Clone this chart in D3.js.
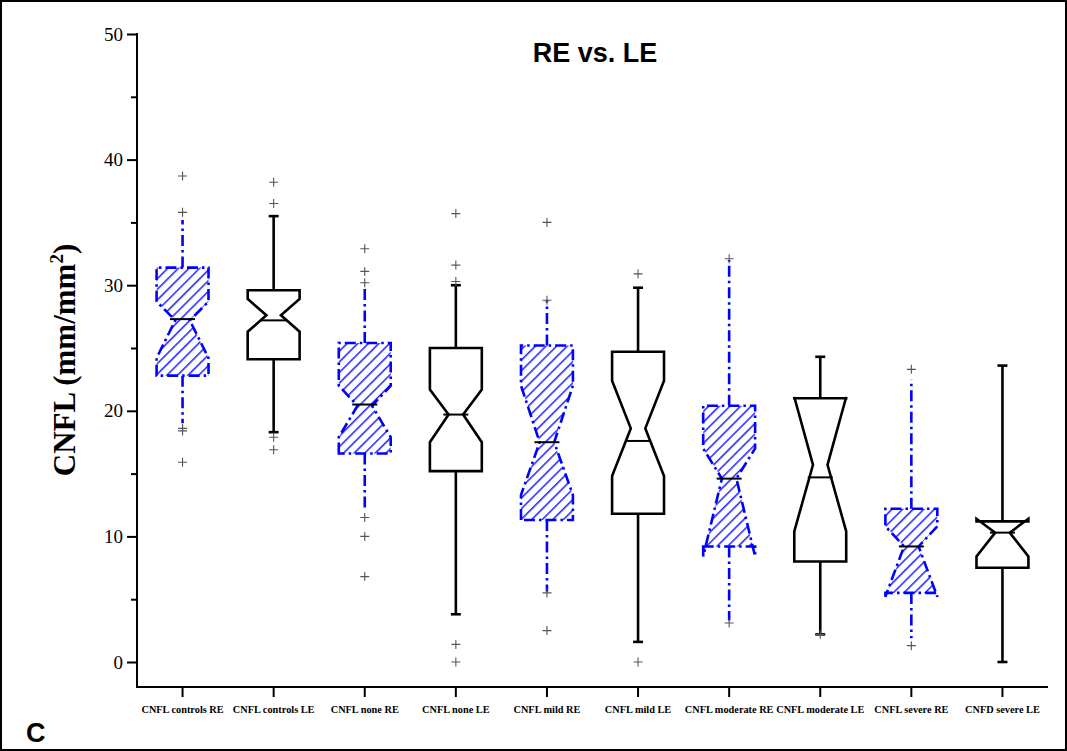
<!DOCTYPE html>
<html>
<head>
<meta charset="utf-8">
<script src="https://cdn.jsdelivr.net/npm/d3@7"></script>
<style>
  html, body { margin: 0; padding: 0; background: #fff; }
  svg { display: block; }
</style>
</head>
<body>
<svg id="chart" width="1067" height="751"></svg>
<script>
// ---- data ----
const categories = ["CNFL controls RE","CNFL controls LE","CNFL none RE","CNFL none LE","CNFL mild RE","CNFL mild LE","CNFL moderate RE","CNFL moderate LE","CNFL severe RE","CNFD severe LE"];
const eyes        = ["RE","LE","RE","LE","RE","LE","RE","LE","RE","LE"];
const whiskerLow  = [19.0, 18.3, 12.3, 3.8, 5.6, 1.6, 3.3, 2.2, 1.9, 0.0];
const q1          = [22.8, 24.1, 16.6, 15.2, 11.3, 11.8, 9.2, 8.0, 5.5, 7.5];
const notchLow    = [24.2, 26.3, 17.9, 17.5, 13.3, 14.8, 8.4, 10.4, 5.2, 8.4];
const notchMid    = [27.2, 27.6, 20.4, 19.7, 17.5, 18.6, 14.6, 15.7, 9.2, 10.3];
const notchHigh   = [28.7, 28.9, 22.0, 21.7, 22.0, 22.4, 17.0, 21.1, 10.8, 11.4];
const q3          = [31.4, 29.6, 25.4, 25.0, 25.2, 24.7, 20.4, 21.0, 12.2, 11.2];
const medians     = [27.3, 27.2, 20.5, 19.7, 17.5, 17.6, 14.6, 14.7, 9.2, 10.3];
const whiskerHigh = [35.2, 35.5, 30.0, 30.0, 28.8, 29.8, 32.0, 24.3, 22.5, 23.6];
const outliers    = [
  [38.7, 35.8, 18.6, 18.4, 15.9],
  [38.2, 36.5, 17.9, 16.9],
  [32.9, 31.1, 30.2, 11.5, 10.0, 6.8],
  [35.7, 31.6, 30.3, 1.4, 0.0],
  [35.0, 28.8, 5.5, 2.5],
  [30.9, 0.0],
  [32.1, 3.1],
  [2.2],
  [23.3, 1.3],
  []
];
const yMajorTicks = [0, 10, 20, 30, 40, 50];
const yMinorTicks = [5, 15, 25, 35, 45];
const titleText = "RE vs. LE";
const yLabelMain = "CNFL (mm/mm";
const yLabelSup = "2";
const panelLabel = "C";

// ---- layout ----
const svg = d3.select("#chart");
const W = 1067, H = 751;
const plotLeft = 137, plotRight = 1048, yTop = 34, yZero = 662, xAxisY = 687;

svg.append("rect").attr("x", 0).attr("y", 0).attr("width", W).attr("height", H).attr("fill", "#fff");
svg.append("rect").attr("x", 1).attr("y", 1).attr("width", W - 2).attr("height", H - 2)
  .attr("fill", "none").attr("stroke", "#000").attr("stroke-width", 2);

const x = d3.scaleBand().domain(categories).range([plotLeft, plotRight]).padding(0);
const y = d3.scaleLinear().domain([0, 50]).range([yZero, yTop]);

const defs = svg.append("defs");
const pat = defs.append("pattern").attr("id", "hatch")
  .attr("patternUnits", "userSpaceOnUse").attr("width", 7.5).attr("height", 7.5)
  .attr("patternTransform", "rotate(45)");
pat.append("line").attr("x1", 0.8).attr("y1", 0).attr("x2", 0.8).attr("y2", 7.5)
  .attr("stroke", "#1f1fff").attr("stroke-width", 1.5);

const blue = "#0000ff";
const dashDot = "11,4,2.5,4";
const hw = x.bandwidth() * 0.285;   // box half width
const waist = hw * 0.28;            // notch waist half width
const medHalf = 12.5;

const data = categories.map((c, i) => ({
  c, eye: eyes[i], lo: whiskerLow[i], q1: q1[i], nl: notchLow[i], nm: notchMid[i],
  nh: notchHigh[i], q3: q3[i], med: medians[i], hi: whiskerHigh[i], out: outliers[i]
}));

function boxPath(d) {
  const xc = x(d.c) + x.bandwidth() / 2;
  const pts = [
    [xc - hw, y(d.q1)], [xc - hw, y(d.nl)], [xc - waist, y(d.nm)], [xc - hw, y(d.nh)],
    [xc - hw, y(d.q3)], [xc + hw, y(d.q3)], [xc + hw, y(d.nh)], [xc + waist, y(d.nm)],
    [xc + hw, y(d.nl)], [xc + hw, y(d.q1)]
  ];
  return d3.line()(pts) + "Z";
}

const g = svg.append("g");
data.forEach(d => {
  const xc = x(d.c) + x.bandwidth() / 2;
  const isRE = d.eye === "RE";
  const col = isRE ? blue : "#000";
  const dash = isRE ? dashDot : null;
  // whiskers
  g.append("line").attr("x1", xc).attr("x2", xc).attr("y1", y(d.q3)).attr("y2", y(d.hi))
    .attr("stroke", col).attr("stroke-width", 2.6).attr("stroke-dasharray", dash);
  g.append("line").attr("x1", xc).attr("x2", xc).attr("y1", y(d.q1)).attr("y2", y(d.lo))
    .attr("stroke", col).attr("stroke-width", 2.6).attr("stroke-dasharray", dash);
  if (!isRE) {
    [d.hi, d.lo].forEach(v => {
      g.append("line").attr("x1", xc - 5).attr("x2", xc + 5).attr("y1", y(v)).attr("y2", y(v))
        .attr("stroke", "#000").attr("stroke-width", 2.6);
    });
  }
  // box
  g.append("path").attr("d", boxPath(d)).attr("fill", isRE ? "url(#hatch)" : "#fff").attr("stroke", "none");
  g.append("path").attr("d", boxPath(d)).attr("fill", "none")
    .attr("stroke", col).attr("stroke-width", 2.6).attr("stroke-linejoin", "miter")
    .attr("stroke-dasharray", dash);
  // median line
  g.append("line").attr("x1", xc - medHalf).attr("x2", xc + medHalf)
    .attr("y1", y(d.med)).attr("y2", y(d.med)).attr("stroke", "#000").attr("stroke-width", 2);
  // outliers
  d.out.forEach(v => {
    const yy = y(v);
    g.append("path").attr("d", `M${xc - 4.5},${yy}H${xc + 4.5}M${xc},${yy - 4.5}V${yy + 4.5}`)
      .attr("stroke", "#555").attr("stroke-width", 1.1).attr("fill", "none");
  });
});

// ---- axes ----
const yAxis = d3.axisLeft(y).tickValues(yMajorTicks).tickSize(10).tickPadding(4).tickFormat(d3.format("d"));
const yg = svg.append("g").attr("transform", `translate(${plotLeft},0)`).call(yAxis);
yg.select(".domain").remove();
yg.selectAll(".tick line").attr("stroke", "#000").attr("stroke-width", 2);
yg.selectAll(".tick text").attr("font-family", "'Liberation Serif', 'Times New Roman', serif")
  .attr("font-size", 19).attr("fill", "#000");
const yMinor = d3.axisLeft(y).tickValues(yMinorTicks).tickSize(6).tickFormat("");
const ym = svg.append("g").attr("transform", `translate(${plotLeft},0)`).call(yMinor);
ym.select(".domain").remove();
ym.selectAll(".tick line").attr("stroke", "#000").attr("stroke-width", 2);

svg.append("line").attr("x1", plotLeft).attr("x2", plotLeft).attr("y1", yTop - 1).attr("y2", xAxisY + 1)
  .attr("stroke", "#000").attr("stroke-width", 2);

const xAxis = d3.axisBottom(x).tickSize(10).tickPadding(9);
const xg = svg.append("g").attr("transform", `translate(0,${xAxisY})`).call(xAxis);
xg.select(".domain").remove();
xg.selectAll(".tick line").attr("stroke", "#000").attr("stroke-width", 2);
xg.selectAll(".tick text").attr("font-family", "'Liberation Serif', 'Times New Roman', serif")
  .attr("font-weight", "bold").attr("font-size", 10.3).attr("fill", "#000");
svg.append("line").attr("x1", plotLeft - 1).attr("x2", plotRight).attr("y1", xAxisY).attr("y2", xAxisY)
  .attr("stroke", "#000").attr("stroke-width", 2);

// ---- texts ----
svg.append("text").attr("x", 595).attr("y", 62).attr("text-anchor", "middle")
  .attr("font-family", "'Liberation Sans', Arial, sans-serif").attr("font-weight", "bold")
  .attr("font-size", 27).attr("fill", "#000").text(titleText);

const yl = svg.append("text").attr("transform", "translate(75,360) rotate(-90)")
  .attr("text-anchor", "middle")
  .attr("font-family", "'Liberation Serif', 'Times New Roman', serif").attr("font-weight", "bold")
  .attr("font-size", 31).attr("fill", "#000");
yl.append("tspan").text(yLabelMain);
yl.append("tspan").attr("dy", -12).attr("font-size", 19).text(yLabelSup);
yl.append("tspan").attr("dy", 12).text(")");

svg.append("text").attr("x", 26).attr("y", 742)
  .attr("font-family", "'Liberation Sans', Arial, sans-serif").attr("font-weight", "bold")
  .attr("font-size", 27).attr("fill", "#000").text(panelLabel);
</script>
</body>
</html>
